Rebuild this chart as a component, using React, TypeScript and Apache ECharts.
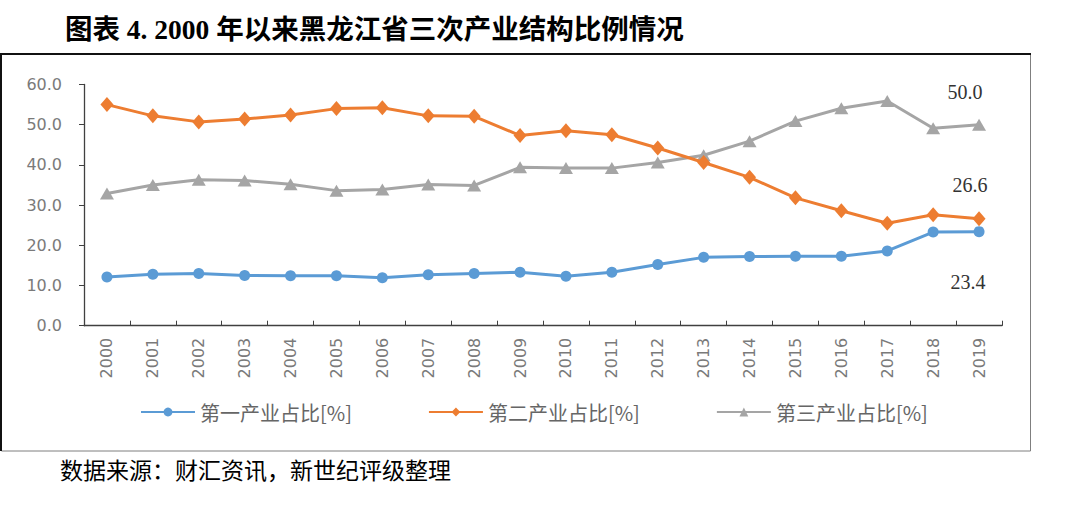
import React, { useEffect, useRef } from "react";
import * as echarts from "echarts";

const years = ["2000","2001","2002","2003","2004","2005","2006","2007","2008","2009","2010","2011","2012","2013","2014","2015","2016","2017","2018","2019"];
const primary = [12.1,12.8,13.0,12.5,12.4,12.4,11.9,12.7,13.0,13.3,12.3,13.3,15.2,17.0,17.2,17.3,17.3,18.6,23.3,23.4];
const secondary = [55.0,52.2,50.7,51.4,52.4,54.0,54.2,52.2,52.1,47.3,48.5,47.5,44.2,40.6,36.9,31.8,28.6,25.5,27.6,26.6];
const tertiary = [32.9,35.0,36.3,36.1,35.2,33.6,33.9,35.1,34.9,39.4,39.2,39.2,40.6,42.4,45.9,50.9,54.1,55.9,49.1,50.0];
const seriesNames = ["第一产业占比[%]", "第二产业占比[%]", "第三产业占比[%]"];
const yTicks = { min: 0, max: 60, interval: 10 };
const titleText = "图表 4. 2000 年以来黑龙江省三次产业结构比例情况";
const sourceText = "数据来源：财汇资讯，新世纪评级整理";

const lastLabel = (arr: number[], offset: number[]) =>
  arr.map((v, i) =>
    i === arr.length - 1
      ? {
          value: v,
          label: {
            show: true,
            position: "inside",
            offset,
            formatter: (p: any) => Number(p.value).toFixed(1),
            fontFamily: "Liberation Serif",
            fontSize: 20,
            color: "#333333",
          },
        }
      : v
  );

export default function App() {
  const ref = useRef<HTMLDivElement>(null);
  useEffect(() => {
    if (!ref.current) return;
    const chart = echarts.init(ref.current, undefined, { renderer: "svg" });
    chart.setOption({
      animation: false,
      backgroundColor: "#ffffff",
      graphic: [
        {
          type: "text",
          left: 65,
          top: 16,
          style: {
            text: titleText,
            fontFamily: "Liberation Serif, Noto Sans CJK SC",
            fontWeight: "bold",
            fontSize: 27.5,
            fill: "#000000",
          },
        },
        {
          type: "rect",
          shape: { x: 1.5, y: 54, width: 1029, height: 397 },
          style: { fill: "none", stroke: "#7f7f7f", lineWidth: 1 },
        },
        {
          type: "polyline",
          shape: { points: [[1, 451], [1, 54], [1031, 54]] },
          style: { fill: "none", stroke: "#111111", lineWidth: 2 },
        },
        {
          type: "text",
          left: 60,
          top: 460,
          style: {
            text: sourceText,
            fontFamily: "Liberation Serif, Noto Sans CJK SC",
            fontSize: 23,
            fill: "#000000",
          },
        },
      ],
      grid: { left: 84, right: 78, top: 84.5, bottom: 181.3, containLabel: false },
      legend: {
        left: 135,
        top: 397,
        itemWidth: 54,
        itemHeight: 11,
        itemGap: 76,
        textStyle: { fontFamily: "Noto Sans CJK SC", fontSize: 20, color: "#666666" },
        data: seriesNames,
      },
      xAxis: {
        type: "category",
        data: years,
        boundaryGap: true,
        axisLine: { lineStyle: { color: "#404040", width: 1.3 } },
        axisTick: { show: true, inside: true, length: 5, interval: 0, lineStyle: { color: "#404040" } },
        axisLabel: {
          rotate: 90,
          interval: 0,
          margin: 12,
          color: "#7a7a7a",
          fontFamily: "DejaVu Sans",
          fontSize: 16,
        },
        splitLine: { show: false },
      },
      yAxis: {
        type: "value",
        min: yTicks.min,
        max: yTicks.max,
        interval: yTicks.interval,
        axisLine: { show: true, lineStyle: { color: "#404040", width: 1.3 } },
        axisTick: { show: true, inside: false, length: 5, lineStyle: { color: "#404040" } },
        axisLabel: {
          margin: 22,
          color: "#7a7a7a",
          fontFamily: "DejaVu Sans",
          fontSize: 16,
          formatter: (v: number) => v.toFixed(1),
        },
        splitLine: { show: false },
      },
      series: [
        {
          name: seriesNames[0],
          type: "line",
          data: lastLabel(primary, [-11, 50]),
          symbol: "circle",
          symbolSize: 11,
          color: "#5B9BD5",
          lineStyle: { width: 3, color: "#5B9BD5" },
          itemStyle: { color: "#5B9BD5" },
          z: 3,
        },
        {
          name: seriesNames[1],
          type: "line",
          data: lastLabel(secondary, [-9, -34]),
          symbol: "diamond",
          symbolSize: [13, 15],
          color: "#ED7D31",
          lineStyle: { width: 3, color: "#ED7D31" },
          itemStyle: { color: "#ED7D31" },
          z: 4,
        },
        {
          name: seriesNames[2],
          type: "line",
          data: lastLabel(tertiary, [-14, -33]),
          symbol: "triangle",
          symbolSize: [14, 12],
          color: "#A5A5A5",
          lineStyle: { width: 3, color: "#A5A5A5" },
          itemStyle: { color: "#A5A5A5" },
          z: 2,
        },
      ],
    });
    return () => chart.dispose();
  }, []);
  return (
    <div
      ref={ref}
      style={{ position: "fixed", left: 0, top: 0, width: 1080, height: 507 }}
    />
  );
}
